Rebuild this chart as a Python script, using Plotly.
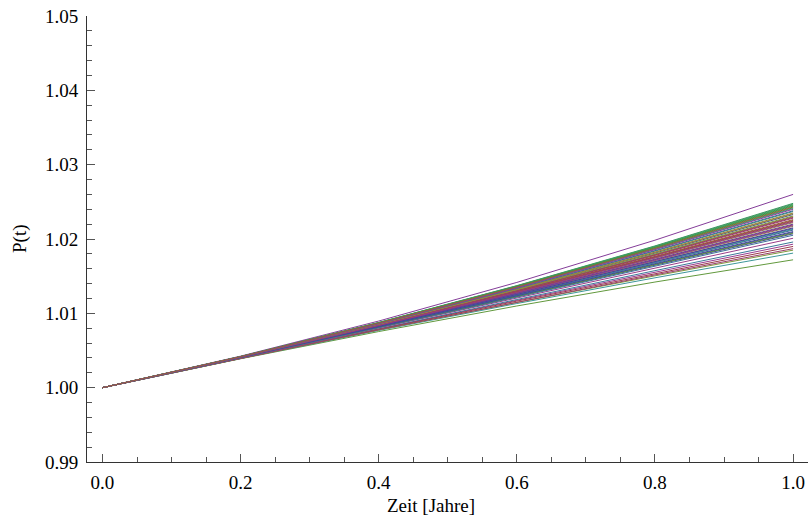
import colorsys
import plotly.graph_objects as go

# time grid (years)
t_years = [0.0, 0.2, 0.4, 0.6, 0.8, 1.0]

# P(t) values per path, read column-wise at each time point
p_t00 = [1.0] * 45
p_t02 = [1.00413, 1.00411, 1.00409, 1.00418, 1.00406, 1.00397, 1.00410, 1.00417, 1.00398, 1.00424,
         1.00408, 1.00389, 1.00392, 1.00404, 1.00396, 1.00394, 1.00415, 1.00403, 1.00395, 1.00407,
         1.00419, 1.00405, 1.00400, 1.00412, 1.00418, 1.00402, 1.00407, 1.00410, 1.00403, 1.00405,
         1.00408, 1.00410, 1.00412, 1.00416, 1.00406, 1.00412, 1.00414, 1.00419, 1.00404, 1.00409,
         1.00414, 1.00418, 1.00415, 1.00416, 1.00417]
p_t04 = [1.00853, 1.00845, 1.00835, 1.00874, 1.00822, 1.00789, 1.00840, 1.00867, 1.00794, 1.00896,
         1.00830, 1.00755, 1.00770, 1.00814, 1.00784, 1.00776, 1.00859, 1.00811, 1.00779, 1.00827,
         1.00877, 1.00819, 1.00802, 1.00848, 1.00870, 1.00808, 1.00829, 1.00842, 1.00813, 1.00821,
         1.00832, 1.00838, 1.00850, 1.00866, 1.00824, 1.00846, 1.00854, 1.00875, 1.00816, 1.00837,
         1.00856, 1.00872, 1.00861, 1.00864, 1.00869]
p_t06 = [1.01319, 1.01301, 1.01279, 1.01366, 1.01250, 1.01175, 1.01290, 1.01351, 1.01186, 1.01416,
         1.01268, 1.01099, 1.01132, 1.01232, 1.01164, 1.01146, 1.01333, 1.01225, 1.01153, 1.01261,
         1.01373, 1.01243, 1.01204, 1.01308, 1.01358, 1.01218, 1.01265, 1.01294, 1.01229, 1.01247,
         1.01272, 1.01286, 1.01312, 1.01348, 1.01254, 1.01304, 1.01322, 1.01369, 1.01236, 1.01283,
         1.01326, 1.01362, 1.01337, 1.01344, 1.01355]
p_t08 = [1.01811, 1.01779, 1.01741, 1.01894, 1.01690, 1.01555, 1.01760, 1.01869, 1.01574, 1.01984,
         1.01722, 1.01421, 1.01478, 1.01658, 1.01536, 1.01504, 1.01837, 1.01645, 1.01517, 1.01709,
         1.01907, 1.01677, 1.01606, 1.01792, 1.01882, 1.01632, 1.01715, 1.01766, 1.01651, 1.01683,
         1.01728, 1.01754, 1.01798, 1.01862, 1.01696, 1.01786, 1.01818, 1.01901, 1.01664, 1.01747,
         1.01824, 1.01888, 1.01843, 1.01856, 1.01875]
p_t10 = [1.0233, 1.0228, 1.0222, 1.0246, 1.0214, 1.0193, 1.0225, 1.0242, 1.0196, 1.0260,
         1.0219, 1.0172, 1.0181, 1.0209, 1.0190, 1.0185, 1.0237, 1.0207, 1.0187, 1.0217,
         1.0248, 1.0212, 1.0201, 1.0230, 1.0244, 1.0205, 1.0218, 1.0226, 1.0208, 1.0213,
         1.0220, 1.0224, 1.0231, 1.0241, 1.0215, 1.0229, 1.0234, 1.0247, 1.0210, 1.0223,
         1.0235, 1.0245, 1.0238, 1.0240, 1.0243]

x_tick_vals = [0.0, 0.2, 0.4, 0.6, 0.8, 1.0]
y_tick_vals = [0.99, 1.00, 1.01, 1.02, 1.03, 1.04, 1.05]
x_title = "Zeit [Jahre]"
y_title = "P(t)"


def mma_color(i):
    h = (0.67 + 2.0 * i / 1.618033988749895) % 1.0
    r, g, b = colorsys.hsv_to_rgb(h, 0.6, 0.6)
    return "rgb(%d,%d,%d)" % (round(r * 255), round(g * 255), round(b * 255))


fig = go.Figure()
for i in range(len(p_t10)):
    ys = [p_t00[i], p_t02[i], p_t04[i], p_t06[i], p_t08[i], p_t10[i]]
    fig.add_trace(go.Scatter(x=t_years, y=ys, mode="lines",
                             line=dict(color=mma_color(i), width=1),
                             showlegend=False, hoverinfo="skip"))

font_family = "Liberation Serif, Times New Roman, serif"
axis_common = dict(
    showline=True, linecolor="#333333", linewidth=1,
    showgrid=False, zeroline=False, automargin=False,
    ticks="inside", ticklen=8, tickcolor="#555555", tickwidth=1,
    ticklabeloverflow="allow",
    tickfont=dict(family=font_family, size=19, color="black"),
)

fig.update_layout(
    width=808, height=528,
    margin=dict(l=87, r=0, t=16, b=66),
    paper_bgcolor="white", plot_bgcolor="white",
    font=dict(family=font_family, size=19, color="black"),
    xaxis=dict(range=[-0.0224, 1.0216], tickvals=x_tick_vals, tickformat=".1f",
               minor=dict(ticks="inside", ticklen=5, dtick=0.05, tick0=0, tickcolor="#555555"),
               ticklabelstandoff=3, **axis_common),
    yaxis=dict(range=[0.99, 1.05], tickvals=y_tick_vals, tickformat=".2f",
               minor=dict(ticks="inside", ticklen=5, dtick=0.002, tick0=0.99, tickcolor="#555555"),
               ticklabelstandoff=4, **axis_common),
    annotations=[
        dict(text=x_title, xref="x", yref="paper", x=0.475, y=0, yshift=-43,
             xanchor="center", yanchor="middle", showarrow=False,
             font=dict(family=font_family, size=19, color="black")),
        dict(text=y_title, xref="paper", yref="paper", x=0, y=0.5, xshift=-67,
             xanchor="center", yanchor="middle", textangle=-90, showarrow=False,
             font=dict(family=font_family, size=19, color="black")),
    ],
)

fig.write_html(
    "out.html",
    config={"displayModeBar": False},
    post_script="document.body.style.margin='0';document.body.style.overflow='hidden';",
)
